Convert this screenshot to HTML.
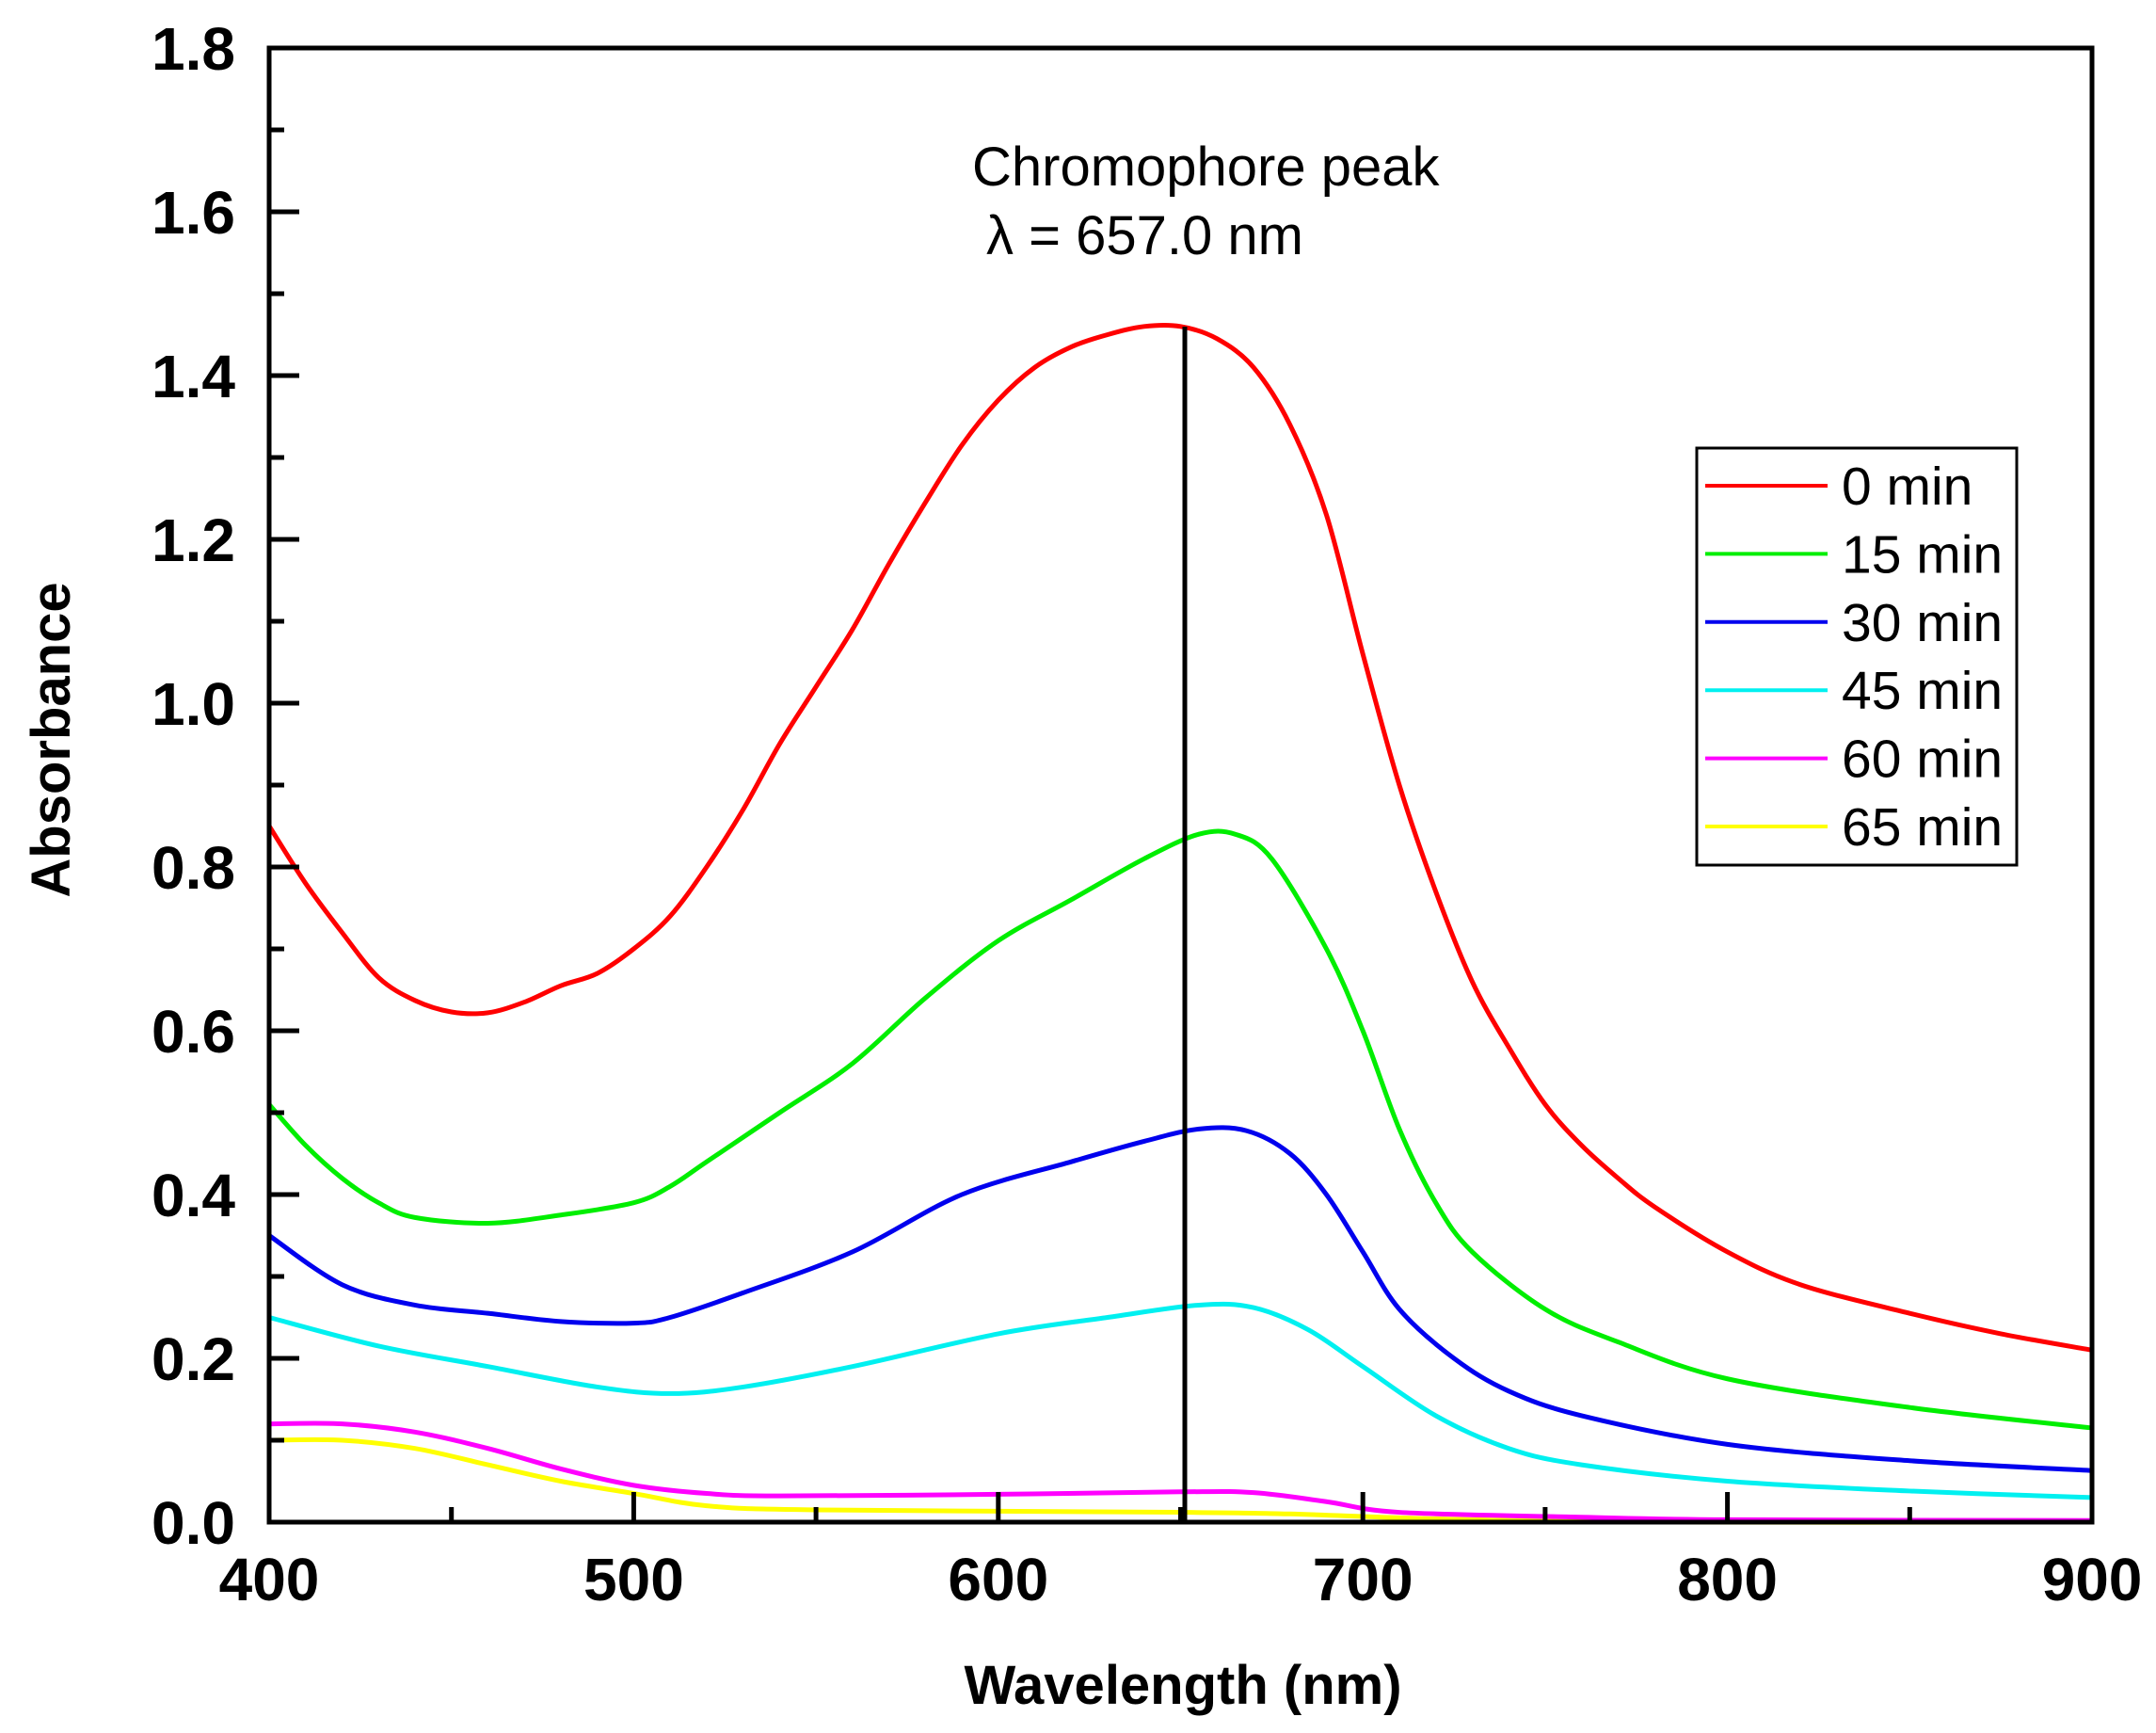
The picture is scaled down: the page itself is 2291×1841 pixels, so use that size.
<!DOCTYPE html>
<html><head><meta charset="utf-8"><style>
html,body{margin:0;padding:0;background:#fff;}
svg{display:block;}
text{font-family:"Liberation Sans",Arial,sans-serif;}
</style></head><body>
<svg id="s" width="2291" height="1841" viewBox="0 0 2291 1841" xmlns="http://www.w3.org/2000/svg">
<rect width="2291" height="1841" fill="#fff"/>
<g id="curves" fill="none" stroke-width="5" stroke-linejoin="round"></g>
<rect x="286" y="51" width="1937" height="1566" fill="none" stroke="#000" stroke-width="5"/>
<g id="ticks" stroke="#000" stroke-width="5"></g>
<g id="labels" font-weight="bold" font-size="64" fill="#000"></g>
<line x1="1259" y1="347" x2="1259" y2="1617" stroke="#000" stroke-width="5"/>
<text x="1033" y="197" font-size="58">Chromophore peak</text>
<text x="1048" y="270" font-size="58">λ = 657.0 nm</text>
<text x="1257" y="1810" font-size="58" font-weight="bold" text-anchor="middle">Wavelength (nm)</text>
<text x="0" y="0" font-size="58" font-weight="bold" text-anchor="middle" transform="translate(74,786) rotate(-90)">Absorbance</text>
<rect x="1803" y="476" width="340" height="443" fill="#fff" stroke="#000" stroke-width="3"/>
<g id="legend" font-size="57"></g>
</svg>
<script>
const X=n=>286+(n-400)*1937/500, Y=a=>1617-a*1566/1.8;
const data={
"#ff0000":[[400,.85],[410,.78],[420,.72],[430,.665],[440,.637],[450,.623],[460,.622],[470,.635],[480,.655],[490,.67],[500,.70],[510,.74],[520,.80],[530,.87],[540,.95],[550,1.02],[560,1.09],[570,1.17],[580,1.245],[590,1.315],[600,1.37],[610,1.41],[620,1.435],[630,1.45],[640,1.46],[650,1.46],[660,1.445],[670,1.41],[680,1.34],[690,1.23],[700,1.06],[710,.90],[720,.77],[730,.66],[740,.58],[750,.51],[760,.46],[770,.42],[780,.385],[800,.33],[820,.29],[850,.255],[875,.23],[900,.21]],
"#00ee00":[[400,.51],[410,.46],[420,.42],[430,.39],[440,.372],[460,.365],[480,.375],[500,.39],[510,.41],[520,.44],[540,.50],[560,.56],[580,.64],[600,.71],[620,.76],[640,.81],[655,.84],[665,.84],[675,.81],[690,.70],[700,.60],[710,.48],[720,.39],[730,.33],[750,.26],[770,.22],[800,.175],[850,.14],[900,.115]],
"#0000ee":[[400,.35],[420,.29],[440,.265],[460,.255],[480,.245],[500,.243],[510,.25],[530,.28],[560,.33],[590,.40],[620,.44],[640,.465],[655,.48],[668,.478],[680,.45],[690,.40],[700,.33],[710,.26],[725,.20],[740,.16],[760,.13],[800,.095],[850,.075],[900,.063]],
"#00f0f0":[[400,.25],[430,.215],[460,.19],[490,.165],[510,.157],[530,.165],[560,.19],[600,.23],[630,.25],[655,.265],[670,.262],[685,.235],[700,.19],[720,.13],[740,.09],[760,.07],[800,.05],[850,.038],[900,.03]],
"#ff00ff":[[400,.12],[420,.12],[440,.11],[460,.09],[480,.065],[500,.045],[520,.035],[540,.032],[600,.034],[650,.037],[670,.036],[690,.025],[710,.012],[760,.006],[800,.003],[900,.002]],
"#ffff00":[[400,.10],[420,.10],[440,.09],[460,.07],[480,.05],[500,.035],[520,.02],[550,.015],[650,.012],[680,.01],[720,.004],[780,0],[900,0]]
};
const NS="http://www.w3.org/2000/svg";
function el(t,a,p){const e=document.createElementNS(NS,t);for(const k in a)e.setAttribute(k,a[k]);p.appendChild(e);return e;}
const cg=document.getElementById("curves");
for(const c of ["#ffff00","#ff00ff","#00f0f0","#0000ee","#00ee00","#ff0000"]){
 const p=data[c].map(d=>[X(d[0]),Y(d[1])]);
 let s="M"+p[0][0]+","+p[0][1];
 for(let i=0;i<p.length-1;i++){
  const p0=p[i-1]||p[i],p1=p[i],p2=p[i+1],p3=p[i+2]||p2;
  const c1=[p1[0]+(p2[0]-p0[0])/6,p1[1]+(p2[1]-p0[1])/6],c2=[p2[0]-(p3[0]-p1[0])/6,p2[1]-(p3[1]-p1[1])/6];
  s+=` C${c1[0]},${c1[1]} ${c2[0]},${c2[1]} ${p2[0]},${p2[1]}`;
 }
 el("path",{d:s,stroke:c},cg);
}
const tg=document.getElementById("ticks"),lg=document.getElementById("labels");
for(let i=0;i<=18;i++){const y=Y(i*0.1);const L=i%2?16:32;el("line",{x1:286,y1:y,x2:286+L,y2:y},tg);
 if(i%2==0){const t=el("text",{x:250,y:y+23,"text-anchor":"end"},lg);t.textContent=(i/10).toFixed(1);}}
for(let n=400;n<=900;n+=50){const x=X(n);const L=n%100?16:32;el("line",{x1:x,y1:1617,x2:x,y2:1617-L},tg);
 if(n%100==0){const t=el("text",{x:x,y:1700,"text-anchor":"middle"},lg);t.textContent=n;}}
const leg=document.getElementById("legend");
const names=["0 min","15 min","30 min","45 min","60 min","65 min"],cols=["#ff0000","#00ee00","#0000ee","#00f0f0","#ff00ff","#ffff00"];
names.forEach((n,i)=>{const y=516+i*72.4;el("line",{x1:1812,y1:y,x2:1942,y2:y,stroke:cols[i],"stroke-width":4},leg);
 const t=el("text",{x:1957,y:y+20},leg);t.textContent=n;});
</script>
</body></html>
